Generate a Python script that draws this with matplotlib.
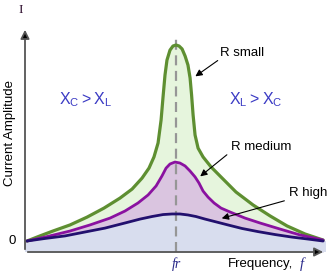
import matplotlib
matplotlib.use("Agg")
import matplotlib.pyplot as plt

plt.rcParams['font.family'] = ['Liberation Sans', 'DejaVu Sans']

# frequency in units of fr, amplitude relative to the R small peak
green_x = [0.013, 0.099, 0.185, 0.298, 0.411, 0.523, 0.629, 0.709, 0.775, 0.821,
           0.854, 0.881, 0.901, 0.914, 0.927, 0.940, 0.960, 0.980, 1.000, 1.020,
           1.040, 1.060, 1.079, 1.093, 1.103, 1.113, 1.126, 1.146, 1.179, 1.232,
           1.291, 1.397, 1.510, 1.623, 1.735, 1.854, 1.974]
green_y = [0.000, 0.026, 0.051, 0.082, 0.122, 0.168, 0.219, 0.265, 0.321, 0.372,
           0.429, 0.500, 0.617, 0.735, 0.847, 0.923, 0.974, 0.995, 1.000, 0.995,
           0.980, 0.944, 0.898, 0.832, 0.745, 0.643, 0.541, 0.474, 0.429, 0.378,
           0.332, 0.250, 0.184, 0.128, 0.077, 0.036, 0.005]

purple_x = [0.013, 0.132, 0.298, 0.430, 0.563, 0.662, 0.748, 0.815, 0.868, 0.907,
            0.934, 0.960, 0.993, 1.026, 1.060, 1.093, 1.126, 1.152, 1.179, 1.212,
            1.252, 1.298, 1.358, 1.457, 1.556, 1.689, 1.821, 1.974]
purple_y = [0.000, 0.020, 0.051, 0.082, 0.117, 0.153, 0.194, 0.235, 0.281, 0.332,
            0.372, 0.393, 0.403, 0.398, 0.383, 0.357, 0.327, 0.296, 0.255, 0.224,
            0.194, 0.168, 0.148, 0.117, 0.092, 0.061, 0.031, 0.005]

navy_x = [0.013, 0.132, 0.265, 0.397, 0.530, 0.662, 0.762, 0.841, 0.914, 0.974,
          1.026, 1.079, 1.132, 1.192, 1.258, 1.344, 1.437, 1.543, 1.656, 1.768,
          1.874, 1.974]
navy_y = [0.000, 0.013, 0.026, 0.046, 0.066, 0.092, 0.112, 0.125, 0.135, 0.138,
          0.138, 0.133, 0.125, 0.112, 0.099, 0.082, 0.064, 0.048, 0.033, 0.020,
          0.010, 0.000]

fr = 1.0
xmin, xmax = 0.0, 1.993
ymin, ymax = -0.056, 1.092

fig = plt.figure(figsize=(3.27, 2.74), dpi=100)
ax = fig.add_axes([25 / 327, 22 / 274, 301 / 327, 225 / 274])
ax.set_xlim(xmin, xmax)
ax.set_ylim(ymin, ymax)
ax.axis('off')

# filled areas, layered from the tallest curve down
ax.fill_between(green_x, green_y, ymin, color='#e6f5dd', lw=0)
ax.fill_between(purple_x, purple_y, ymin, color='#dac5e0', lw=0)
ax.fill_between(navy_x, navy_y, ymin, color='#d8ddee', lw=0)
ax.axhspan(ymin, 0, color='#d8ddee', lw=0)

ax.plot([fr, fr], [ymin, 1.051], color='#969696', lw=1.6, dashes=(4.5, 2.5), zorder=2)

line_kw = dict(solid_capstyle='round', solid_joinstyle='round', zorder=3)
ax.plot(green_x, green_y, color='#5e8f31', lw=2.3, **line_kw)
ax.plot(purple_x, purple_y, color='#8a12a0', lw=2.0, **line_kw)
ax.plot(navy_x, navy_y, color='#22106e', lw=2.0, **line_kw)

# axes with arrow heads
for tip in [(0, 1), (1, 0)]:
    ax.annotate('', xy=tip, xytext=(0, 0), xycoords='axes fraction',
                arrowprops=dict(arrowstyle='-|>', color='#555555', lw=1.3,
                                mutation_scale=13, fc='black', ec='#555555'))

# labels
ax.text(-0.026, 1.179, 'I', family='Liberation Serif', fontsize=9.5, color='#301030',
        ha='center', va='center')
ax.text(-0.099, 0.551, 'Current Amplitude', fontsize=9.5, rotation=90,
        ha='center', va='center')
ax.text(-0.086, 0.0, '0', fontsize=9.5, ha='center', va='center')
ax.text(fr, -0.117, 'fr', family='Liberation Serif', style='italic', fontsize=10,
        color='#2a2a8a', ha='center', va='center')
ax.text(1.344, -0.117, 'Frequency,', fontsize=9.5, ha='left', va='center')
ax.text(1.834, -0.117, 'f', family='Liberation Serif', style='italic', fontsize=10.5,
        color='#2a2a8a', ha='center', va='center')

ax.text(0.401, 0.719, r'$\mathregular{X_C > X_L}$', fontsize=11.5, color='#3b3bc4',
        ha='center', va='center')
ax.text(1.530, 0.719, r'$\mathregular{X_L > X_C}$', fontsize=11.5, color='#3b3bc4',
        ha='center', va='center')

arrow = dict(arrowstyle='-|>', color='black', lw=0.8, mutation_scale=10)
ax.text(1.291, 0.959, 'R small', fontsize=9.5, ha='left', va='center')
ax.annotate('', xy=(1.113, 0.832), xytext=(1.291, 0.929), arrowprops=arrow)
ax.text(1.364, 0.480, 'R medium', fontsize=9.5, ha='left', va='center')
ax.annotate('', xy=(1.146, 0.321), xytext=(1.351, 0.449), arrowprops=arrow)
ax.text(1.748, 0.245, 'R high', fontsize=9.5, ha='left', va='center')
ax.annotate('', xy=(1.285, 0.112), xytext=(1.735, 0.209), arrowprops=arrow)

fig.savefig('out.png', dpi=100)
